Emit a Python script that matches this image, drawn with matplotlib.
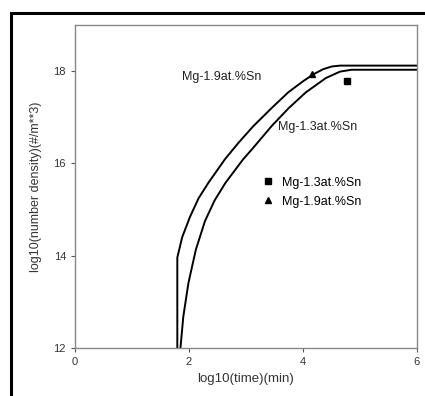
import numpy as np
import matplotlib.pyplot as plt
from matplotlib.patches import Rectangle

plt.rcParams['font.family'] = ['Liberation Sans', 'DejaVu Sans']

# curve Mg-1.9at.%Sn (upper)
t_19 = [1.795, 1.795, 1.88, 2.02, 2.17, 2.34, 2.63, 2.87, 3.13, 3.45, 3.74, 4.0, 4.18, 4.35, 4.5, 4.65, 6.0]
n_19 = [12.0, 13.96, 14.4, 14.85, 15.25, 15.58, 16.09, 16.45, 16.81, 17.2, 17.54, 17.78, 17.93, 18.04, 18.1, 18.12, 18.12]

# curve Mg-1.3at.%Sn (lower)
t_13 = [1.85, 1.9, 1.99, 2.12, 2.28, 2.45, 2.64, 2.95, 3.1, 3.45, 3.75, 4.05, 4.4, 4.65, 4.85, 6.0]
n_13 = [12.0, 12.68, 13.41, 14.13, 14.75, 15.2, 15.58, 16.09, 16.3, 16.81, 17.2, 17.54, 17.85, 17.99, 18.03, 18.03]

# experimental points
exp_t = [4.77, 4.15]
exp_n = [17.79, 17.93]
exp_lab = ["Mg-1.3at.%Sn", "Mg-1.9at.%Sn"]
exp_mk = ["s", "^"]

fig = plt.figure(figsize=(4.25, 3.96), dpi=100)
fig.patches.append(Rectangle((11 / 425, -0.1), 1.2, 1 - 13 / 396 + 0.1,
                             transform=fig.transFigure, fill=False,
                             ec="black", lw=2.2))
ax = fig.add_axes([75 / 425, 1 - 348 / 396, 342 / 425, 323 / 396])

ax.plot(t_19, n_19, "k-", lw=1.4)
ax.plot(t_13, n_13, "k-", lw=1.4)
for x, y, lab, mk in zip(exp_t, exp_n, exp_lab, exp_mk):
    ax.plot(x, y, mk, color="black", ms=5, label=lab)

ax.text(1.87, 17.88, "Mg-1.9at.%Sn", fontsize=9, color="#222222", va="center")
ax.text(3.56, 16.78, "Mg-1.3at.%Sn", fontsize=9, color="#222222", va="center")

ax.legend(loc="upper left", bbox_to_anchor=(0.51, 0.565), frameon=False,
          fontsize=9, handletextpad=0.5, labelspacing=0.55, handlelength=1.2,
          markerscale=0.9)

ax.set_xlim(0, 6)
ax.set_ylim(12, 19)
ax.set_xticks([0, 2, 4, 6])
ax.set_yticks([12, 14, 16, 18])
ax.set_xlabel("log10(time)(min)", fontsize=9.5, color="#333333", labelpad=4)
ax.set_ylabel("log10(number density)(#/m**3)", fontsize=9, color="#333333", labelpad=8)
ax.tick_params(labelsize=8, colors="#555555", labelcolor="#333333", length=3)
for s in ax.spines.values():
    s.set_color("#888888")
    s.set_linewidth(1)

plt.savefig("out.png", dpi=100)
